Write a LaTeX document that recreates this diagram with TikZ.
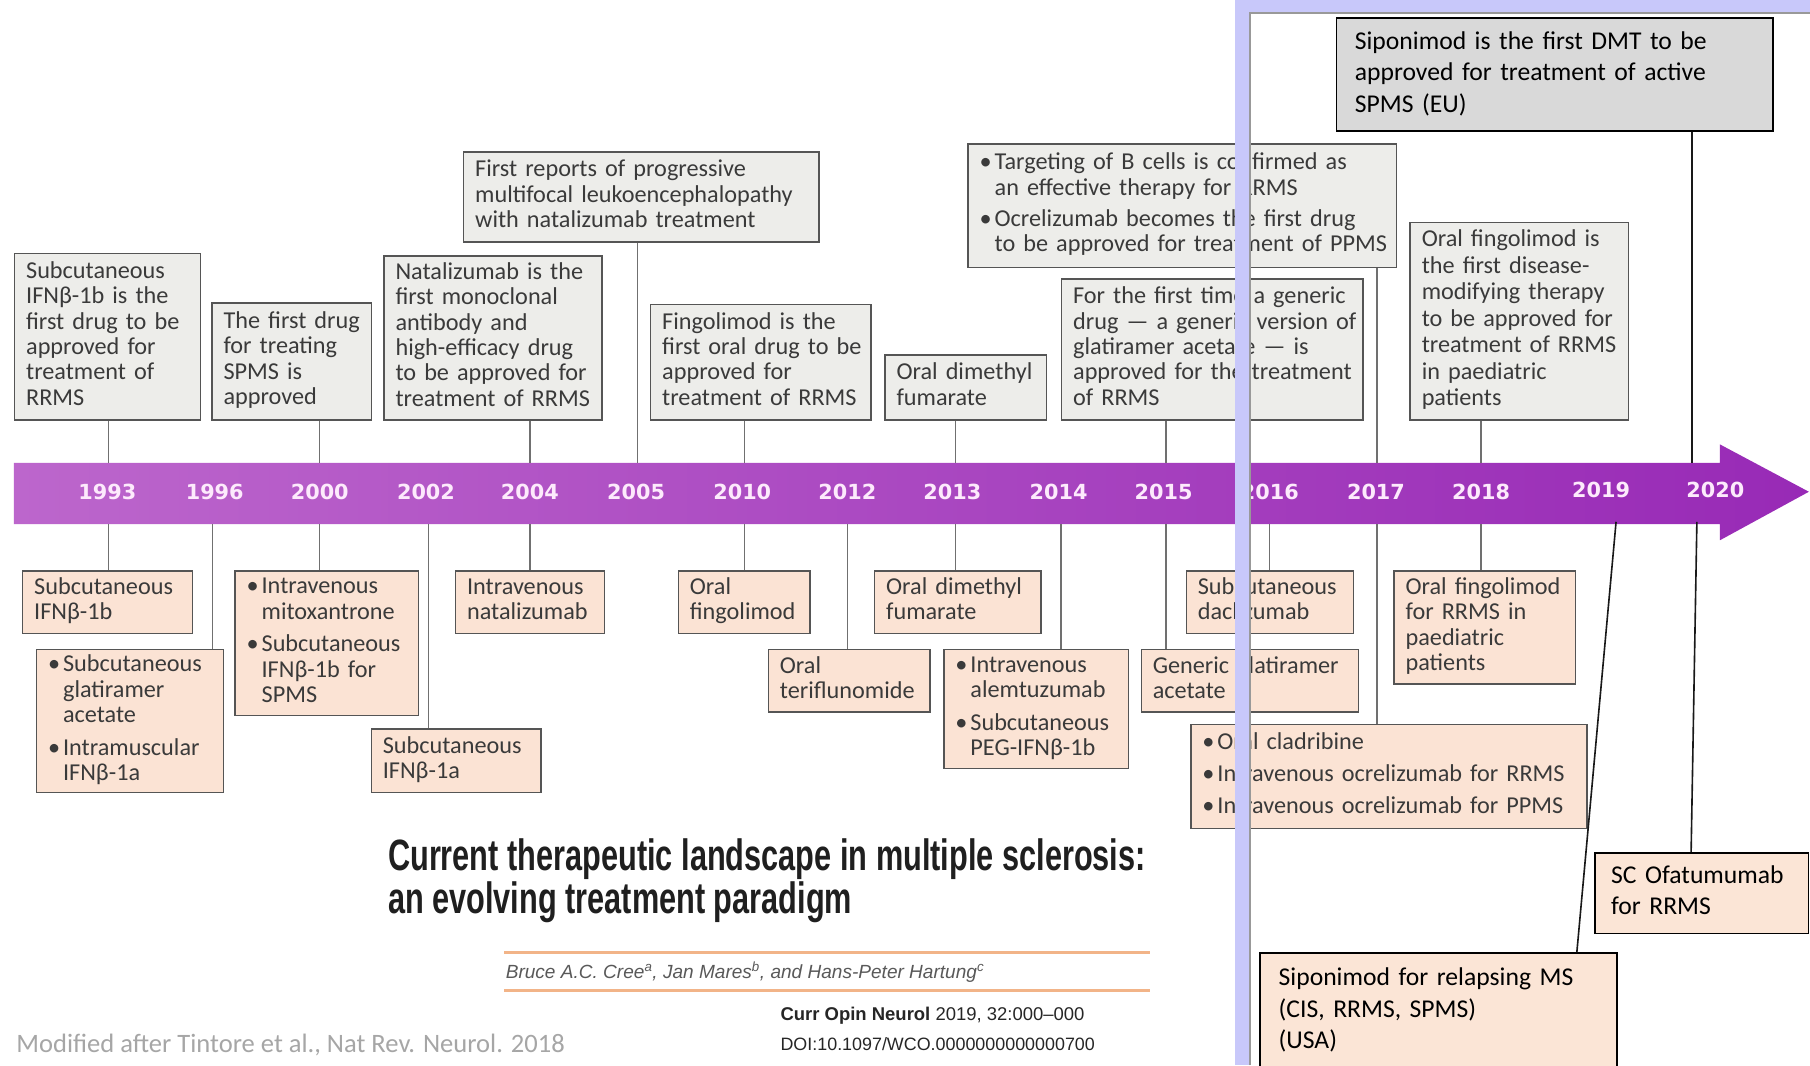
\documentclass[tikz,border=0pt]{standalone}
\usepackage{fontspec}
\usepackage{graphicx}
\setmainfont{Carlito}
\newfontfamily\yearfont{DejaVu Sans}
\newfontfamily\titlefont[FakeStretch=0.7]{Liberation Sans}
\newfontfamily\arialfont{Liberation Sans}
\definecolor{barL}{HTML}{BC66CC}
\definecolor{barR}{HTML}{982AB6}
\definecolor{gfill}{HTML}{EDEDEA}
\definecolor{pfill}{HTML}{FBE3D4}
\definecolor{sgfill}{HTML}{D9D9D9}
\definecolor{spfill}{HTML}{FBE5D6}
\definecolor{bordc}{HTML}{555555}
\definecolor{boxtext}{HTML}{3A3A3A}
\definecolor{connc}{HTML}{707070}
\definecolor{lav}{HTML}{C8C8FA}
\definecolor{yearc}{HTML}{FDEAFC}
\definecolor{orl}{HTML}{F2B488}
\newcommand\lines[1]{\begin{tabular}{@{}l@{}}#1\end{tabular}}
\newcommand\bu{\makebox[13pt][l]{•}}
\newcommand\ii{\hspace*{13pt}}
\newcommand\mkbox[8][10]{%
  \pgfmathsetmacro\tw{#6-2*#1}%
  \node[#2, inner xsep=#1pt, anchor=north west, text width=\tw pt, minimum height=#7pt] (#3) at (#4,#5) {\lines{#8}};}
\tikzset{
  gbox/.style={draw=bordc, fill=gfill, line width=1.3pt, inner ysep=1pt, align=left, text=boxtext,
    font=\fontsize{21}{22}\selectfont},
  pbox/.style={gbox, fill=pfill},
  sbox/.style={draw=black, fill=sgfill, line width=1.4pt, inner ysep=1pt, align=left, text=black,
    font=\fontsize{22.2}{27}\selectfont},
  spbox/.style={sbox, fill=spfill},
  year/.style={font=\yearfont\bfseries\fontsize{18}{18}\selectfont, text=yearc, inner sep=0pt},
  conn/.style={draw=connc, line width=1.2pt},
  bconn/.style={draw=black!90, line width=1.4pt},
}
\begin{document}
\begin{tikzpicture}[x=1pt,y=-1pt]
\useasboundingbox (0,0) rectangle (1568,923);
\fill[white] (0,0) rectangle (1568,923);

% timeline arrow
\shade[left color=barL, right color=barR] (12,401) -- (1490,401) -- (1490,385) -- (1567,426)
  -- (1490,468) -- (1490,454) -- (12,454) -- cycle;
\coordinate (bartop) at (0,401);
\coordinate (barbot) at (0,454);

% year labels
\foreach \yr/\x in {1993/93,1996/186,2000/277,2002/369,2004/459,2005/551,2010/643,2012/734,
  2013/825,2014/917,2015/1008,2016/1100,2017/1192,2018/1283}
  \node[year] (y\yr) at (\x,426) {\yr};
\node[year] (y2019) at (1387,424) {2019};
\node[year] (y2020) at (1486,424) {2020};

% connector x positions
\foreach \n/\x in {a/94,b/184,c/277,d/371,e/459,f/552,g/645,h/734,i/828,j/919,k/1010,l/1100,m/1193,n/1283,o/1466}
  \coordinate (L\n) at (\x,0);
\coordinate (s19a) at (1400,452);
\coordinate (s19b) at (1366,825);
\coordinate (s20a) at (1470,452);
\coordinate (s20b) at (1465,738);

% top boxes
\mkbox{gbox}{T1}{12}{219}{161}{144}{Subcutaneous\\IFNβ-1b is the\\first drug to be\\approved for\\treatment of\\RRMS}
\mkbox{gbox}{T2}{183}{262}{138}{101}{The first drug\\for treating\\SPMS is\\approved}
\mkbox{gbox}{T3}{332}{221}{189}{142}{Natalizumab is the\\first monoclonal\\antibody and\\high-efficacy drug\\to be approved for\\treatment of RRMS}
\mkbox{gbox}{T4}{401}{131}{308}{78}{First reports of progressive\\multifocal leukoencephalopathy\\with natalizumab treatment}
\mkbox{gbox}{T5}{563}{263}{191}{100}{Fingolimod is the\\first oral drug to be\\approved for\\treatment of RRMS}
\mkbox{gbox}{T6}{766}{307}{140}{56}{Oral dimethyl\\fumarate}
\mkbox{gbox}{T7}{838}{124}{371}{107}{\bu Targeting of B cells is confirmed as\\\ii an effective therapy for RRMS\\[5pt]\bu Ocrelizumab becomes the first drug\\\ii to be approved for treatment of PPMS}
\mkbox{gbox}{T8}{919}{241}{261}{122}{For the first time a generic\\drug — a generic version of\\glatiramer acetate — is\\approved for the treatment\\of RRMS}
\mkbox{gbox}{T9}{1221}{192}{189}{171}{Oral fingolimod is\\[1pt]the first disease-\\[1pt]modifying therapy\\[1pt]to be approved for\\[1pt]treatment of RRMS\\[1pt]in paediatric\\[1pt]patients}
\mkbox[16]{sbox}{T10}{1157}{15}{378}{98}{Siponimod is the first DMT to be\\approved for treatment of active\\SPMS (EU)}

% bottom boxes
\mkbox{pbox}{B1}{19}{494}{147}{54}{Subcutaneous\\IFNβ-1b}
\mkbox{pbox}{B2}{31}{562}{162}{124}{\bu Subcutaneous\\\ii glatiramer\\\ii acetate\\[6pt]\bu Intramuscular\\\ii IFNβ-1a}
\mkbox{pbox}{B3}{203}{494}{159}{125}{\bu Intravenous\\\ii mitoxantrone\\[6pt]\bu Subcutaneous\\\ii IFNβ-1b for\\\ii SPMS}
\mkbox{pbox}{B4}{321}{631}{147}{55}{Subcutaneous\\IFNβ-1a}
\mkbox{pbox}{B5}{394}{494}{129}{54}{Intravenous\\natalizumab}
\mkbox{pbox}{B6}{587}{494}{114}{54}{Oral\\fingolimod}
\mkbox{pbox}{B7}{665}{562}{140}{54}{Oral\\teriflunomide}
\mkbox{pbox}{B8}{757}{494}{144}{54}{Oral dimethyl\\fumarate}
\mkbox{pbox}{B9}{817}{562}{160}{103}{\bu Intravenous\\\ii alemtuzumab\\[6pt]\bu Subcutaneous\\\ii PEG-IFNβ-1b}
\mkbox{pbox}{B10}{1027}{494}{145}{54}{Subcutaneous\\daclizumab}
\mkbox{pbox}{B11}{988}{562}{188}{54}{Generic glatiramer\\acetate}
\mkbox{pbox}{B12}{1031}{627}{343}{90}{\bu Oral cladribine\\[5.5pt]\bu Intravenous ocrelizumab for RRMS\\[5.5pt]\bu Intravenous ocrelizumab for PPMS}
\mkbox{pbox}{B13}{1207}{494}{157}{98}{Oral fingolimod\\for RRMS in\\paediatric\\patients}
\mkbox[14]{spbox}{B14}{1381}{738}{185}{70}{SC Ofatumumab\\for RRMS}
\mkbox[16]{spbox}{B15}{1091}{825}{309}{100}{Siponimod for relapsing MS\\(CIS, RRMS, SPMS)\\(USA)}

% connectors (top)
\draw[conn] (La |- T1.south) -- (La |- bartop);
\draw[conn] (Lc |- T2.south) -- (Lc |- bartop);
\draw[conn] (Le |- T3.south) -- (Le |- bartop);
\draw[conn] (Lf |- T4.south) -- (Lf |- bartop);
\draw[conn] (Lg |- T5.south) -- (Lg |- bartop);
\draw[conn] (Li |- T6.south) -- (Li |- bartop);
\draw[conn] (Lm |- T7.south) -- (Lm |- bartop);
\draw[conn] (Lk |- T8.south) -- (Lk |- bartop);
\draw[conn] (Ln |- T9.south) -- (Ln |- bartop);
\draw[bconn] (Lo |- T10.south) -- (Lo |- bartop);
% connectors (bottom)
\draw[conn] (La |- barbot) -- (La |- B1.north);
\draw[conn] (Lb |- barbot) -- (Lb |- B2.north);
\draw[conn] (Lc |- barbot) -- (Lc |- B3.north);
\draw[conn] (Ld |- barbot) -- (Ld |- B4.north);
\draw[conn] (Le |- barbot) -- (Le |- B5.north);
\draw[conn] (Lg |- barbot) -- (Lg |- B6.north);
\draw[conn] (Lh |- barbot) -- (Lh |- B7.north);
\draw[conn] (Li |- barbot) -- (Li |- B8.north);
\draw[conn] (Lj |- barbot) -- (Lj |- B9.north);
\draw[conn] (Ll |- barbot) -- (Ll |- B10.north);
\draw[conn] (Lk |- barbot) -- (Lk |- B11.north);
\draw[conn] (Lm |- barbot) -- (Lm |- B12.north);
\draw[conn] (Ln |- barbot) -- (Ln |- B13.north);
\draw[bconn] (s20a) -- (s20b |- B14.north);
\draw[bconn] (s19a) -- (s19b |- B15.north);

% title block
\node[anchor=base west, inner sep=0, text=black!88, font=\titlefont\bfseries\fontsize{38}{38}\selectfont] (title1) at (336,754) {Current therapeutic landscape in multiple sclerosis:};
\node[anchor=base west, inner sep=0, text=black!88, font=\titlefont\bfseries\fontsize{38}{38}\selectfont] (title2) at (336,791) {an evolving treatment paradigm};
\draw[orl, line width=2.5pt] (437,825) -- (996,825);
\draw[orl, line width=2.5pt] (437,858) -- (996,858);
\node[anchor=base west, inner sep=0, text=black!65, font=\arialfont\itshape\fontsize{16.5}{16.5}\selectfont] (authors) at (438,848) {Bruce A.C. Cree\textsuperscript{a}, Jan Mares\textsuperscript{b}, and Hans-Peter Hartung\textsuperscript{c}};
\node[anchor=base west, inner sep=0, text=black!85, font=\arialfont\fontsize{16}{16}\selectfont] (journal) at (676,884) {\textbf{Curr Opin Neurol} 2019, 32:000–000};
\node[anchor=base west, inner sep=0, text=black!85, font=\arialfont\fontsize{15.5}{15.5}\selectfont] (doi) at (676,910) {DOI:10.1097/WCO.0000000000000700};
\node[anchor=base west, inner sep=0, text=black!35, font=\fontsize{23}{23}\selectfont] (modified) at (14,912) {Modified after Tintore et al., Nat Rev. Neurol. 2018};

% lavender frame
\fill[lav] (1070,0) rectangle (1082,923);
\fill[lav] (1070,0) rectangle (1568,10);
\draw[black!40, line width=1.5pt] (1083,923) -- (1083,11) -- (1568,11);
\end{tikzpicture}
\end{document}
